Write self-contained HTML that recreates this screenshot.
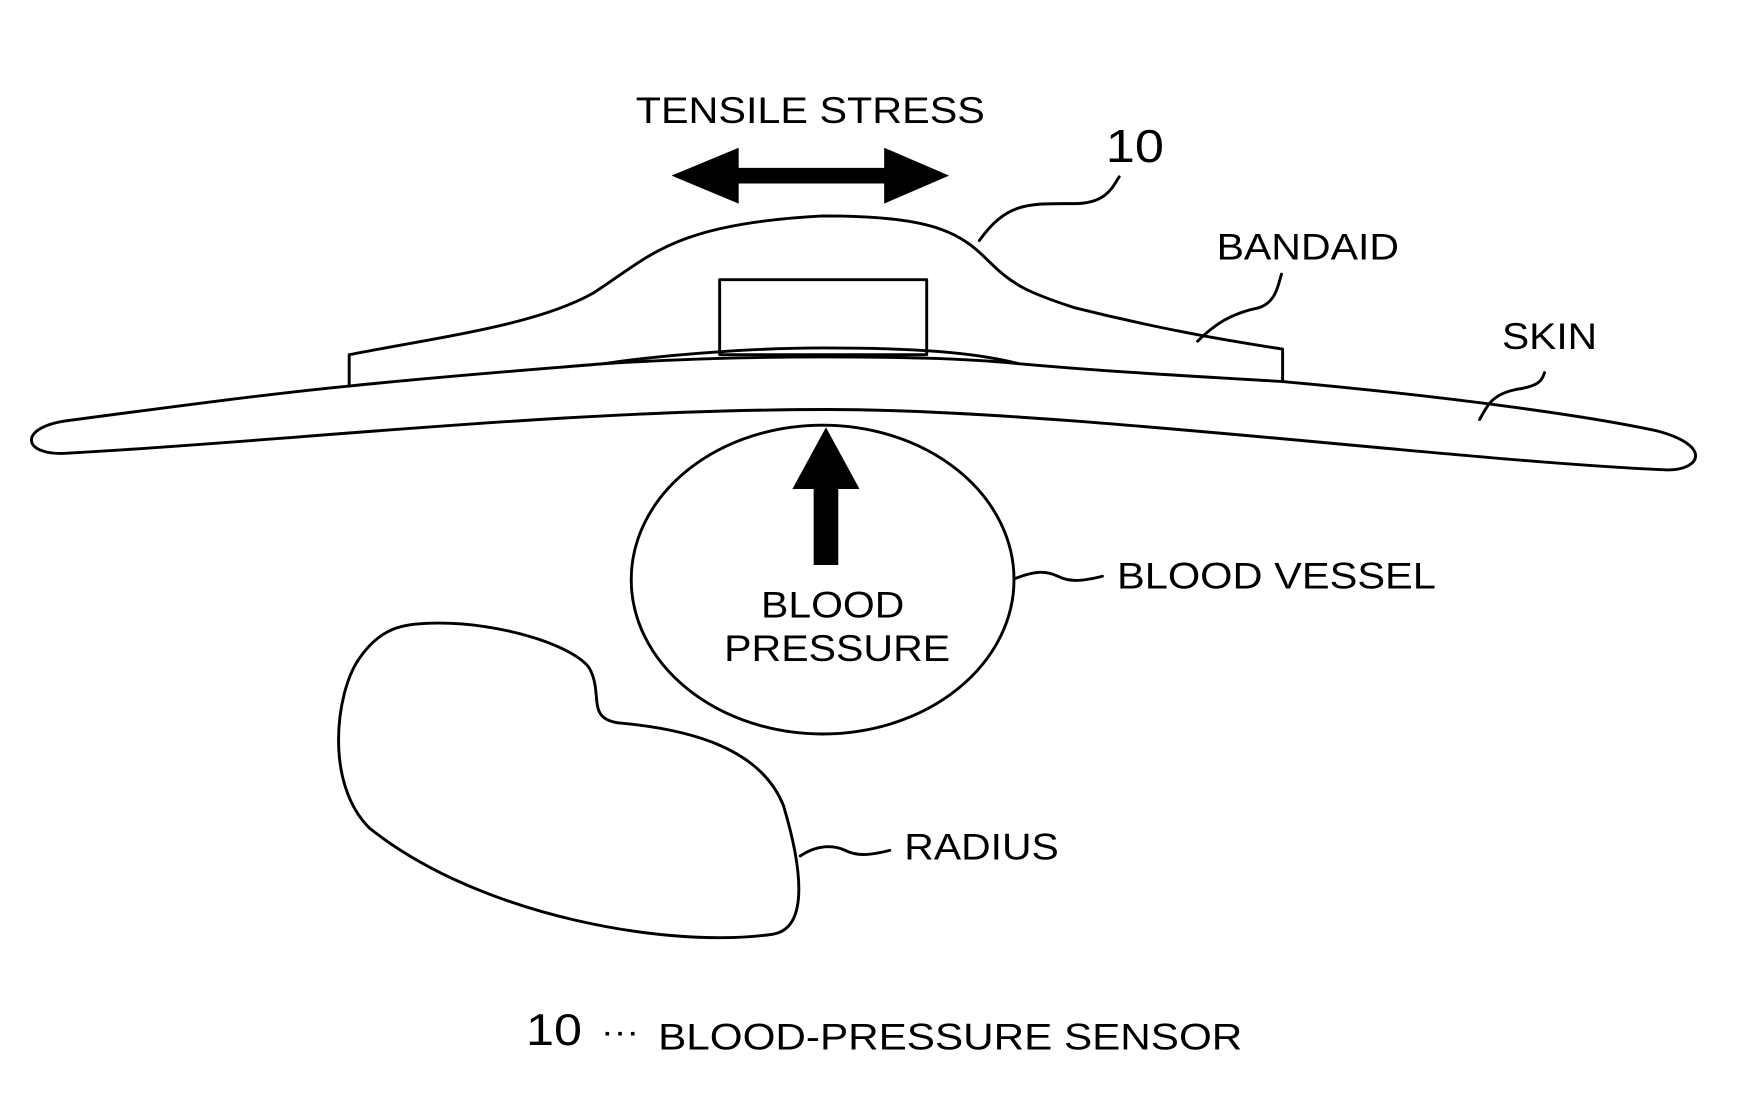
<!DOCTYPE html>
<html><head><style>html,body{margin:0;padding:0;background:#fff}svg{display:block}</style></head>
<body>
<svg width="1737" height="1120" viewBox="0 0 1552 1001" preserveAspectRatio="none" xmlns="http://www.w3.org/2000/svg">
<g fill="none" stroke="#000" stroke-width="2.6" stroke-linejoin="round" stroke-linecap="round">
<path d="M60,376 C150,364 240,352 312,345 C400,336 480,330 540,325 C620,320 680,319 735,319 C800,319 860,320 910,325 C1000,333 1080,337 1146,341 C1300,355 1420,372 1480,385 C1530,398 1520,420 1490,420 C1300,412 950,366 740,366 C500,366 250,395 60,405 C20,408 15,382 60,376 Z"/>
<path d="M312,345 L312,317 C400,300 480,290 530,262 C580,230 600,200 735,193 C840,193 860,210 885,235 C905,255 920,262 960,275 C1040,295 1100,305 1146,312 L1146,341"/>
<rect x="643" y="250" width="185" height="67"/>
<path d="M540,325 C600,316 680,311 735,311 C820,311 870,315 910,325"/>
<path d="M875,215 C900,180 920,182 960,182 C990,182 995,165 1000,158"/>
<path d="M1070,305 C1085,290 1100,280 1125,275 C1140,270 1142,255 1145,245"/>
<path d="M1322,375 C1330,360 1335,352 1355,348 C1375,345 1378,340 1380,333"/>
<path d="M907,517 C925,510 935,510 945,515 C955,520 965,520 985,515"/>
<path d="M715,765 C730,755 745,755 755,760 C765,765 775,765 795,760"/>
<ellipse cx="735" cy="518" rx="171" ry="138"/>
<path d="M385,557 C450,555 520,580 528,600 C538,622 525,642 552,646 C620,652 680,670 700,720 C715,770 725,830 690,835 C600,848 430,820 330,740 C290,700 300,620 320,590 C340,560 360,558 385,557 Z"/>
</g>
<polygon fill="#000" points="600,157 660,132 660,150 790,150 790,132 848,157 790,182 790,164 660,164 660,182"/>
<polygon fill="#000" points="738,382 768,437 749,437 749,505 727,505 727,437 708,437"/>
<g font-family="Liberation Sans, sans-serif" font-size="33" fill="#000">
<text x="568" y="110" textLength="312" lengthAdjust="spacingAndGlyphs">TENSILE STRESS</text>
<text x="988" y="145" font-size="41" textLength="52" lengthAdjust="spacingAndGlyphs">10</text>
<text x="1087" y="232" textLength="163" lengthAdjust="spacingAndGlyphs">BANDAID</text>
<text x="1342" y="312" textLength="85" lengthAdjust="spacingAndGlyphs">SKIN</text>
<text x="998" y="526" textLength="285" lengthAdjust="spacingAndGlyphs">BLOOD VESSEL</text>
<text x="680" y="552" textLength="128" lengthAdjust="spacingAndGlyphs">BLOOD</text>
<text x="647" y="591" textLength="202" lengthAdjust="spacingAndGlyphs">PRESSURE</text>
<text x="808" y="768" textLength="138" lengthAdjust="spacingAndGlyphs">RADIUS</text>
<text x="470" y="934" font-size="40" textLength="50" lengthAdjust="spacingAndGlyphs">10</text>
<text x="537" y="932" font-size="30" textLength="34" lengthAdjust="spacingAndGlyphs">···</text>
<text x="588" y="938" textLength="522" lengthAdjust="spacingAndGlyphs">BLOOD-PRESSURE SENSOR</text>
</g>
</svg>
</body></html>
